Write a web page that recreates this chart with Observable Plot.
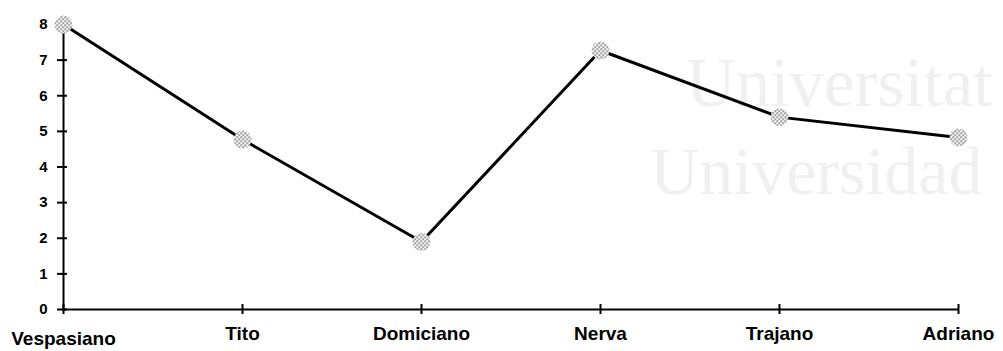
<!DOCTYPE html>
<html>
<head>
<meta charset="utf-8">
<script src="https://cdn.jsdelivr.net/npm/d3@7"></script>
<script src="https://cdn.jsdelivr.net/npm/@observablehq/plot@0.6"></script>
<style>
  html, body { margin: 0; padding: 0; background: white; }
</style>
</head>
<body>
<div id="chart"></div>
<script>
const categories = ["Vespasiano", "Tito", "Domiciano", "Nerva", "Trajano", "Adriano"];
const values = [8, 4.77, 1.9, 7.27, 5.4, 4.83];
const yTicks = [0, 1, 2, 3, 4, 5, 6, 7, 8];
const watermark = ["Universitat", "Universidad"];

const data = categories.map((name, i) => ({name, value: values[i]}));

const chart = Plot.plot({
  width: 1003,
  height: 351,
  marginLeft: 62,
  marginRight: 45,
  marginTop: 24,
  marginBottom: 42,
  x: {type: "point", domain: categories, padding: 0, label: null},
  y: {domain: [0, 8], label: null},
  style: {fontFamily: "'Liberation Sans', Arial, sans-serif", background: "white", color: "black"},
  marks: [
    Plot.text([watermark[0]], {frameAnchor: "top-right", text: d => d, dx: 34, dy: 81, lineAnchor: "bottom", textAnchor: "end", fontSize: 69, fontFamily: "'Liberation Serif', 'Times New Roman', serif", fill: "#f0f0f0"}),
    Plot.text([watermark[1]], {frameAnchor: "top-right", text: d => d, dx: 24, dy: 169, lineAnchor: "bottom", textAnchor: "end", fontSize: 68, fontFamily: "'Liberation Serif', 'Times New Roman', serif", fill: "#f0f0f0"}),
    Plot.ruleX([categories[0]], {stroke: "black", strokeWidth: 2}),
    Plot.ruleY([0], {stroke: "black", strokeWidth: 2}),
    Plot.axisY({ticks: yTicks, tickSize: 10, dx: 5, tickFormat: () => "", strokeWidth: 2, label: null}),
    Plot.axisY({ticks: yTicks, tickSize: 0, tickPadding: 15, fontSize: 15, fontWeight: "bold", tickFormat: d => String(d), label: null}),
    Plot.axisX({tickSize: 10, dy: -5, tickFormat: () => "", strokeWidth: 2, label: null}),
    Plot.axisX([categories[0]], {tickSize: 0, tickPadding: 22, fontSize: 19, fontWeight: "bold", label: null}),
    Plot.axisX(categories.slice(1), {tickSize: 0, tickPadding: 17, fontSize: 19, fontWeight: "bold", label: null}),
    Plot.line(data, {x: "name", y: "value", stroke: "black", strokeWidth: 3}),
    Plot.dot(data, {x: "name", y: "value", r: 9, fill: "url(#dither)", stroke: null})
  ]
});

const ns = "http://www.w3.org/2000/svg";
const defs = document.createElementNS(ns, "defs");
defs.innerHTML = '<pattern id="dither" patternUnits="userSpaceOnUse" width="4" height="4">' +
  '<rect width="4" height="4" fill="#ffffff"/>' +
  '<rect x="0" y="0" width="1.4" height="1.4" fill="#333333"/>' +
  '<rect x="2" y="2" width="1.4" height="1.4" fill="#333333"/>' +
  '</pattern>';
chart.prepend(defs);

document.getElementById("chart").appendChild(chart);
</script>
</body>
</html>
